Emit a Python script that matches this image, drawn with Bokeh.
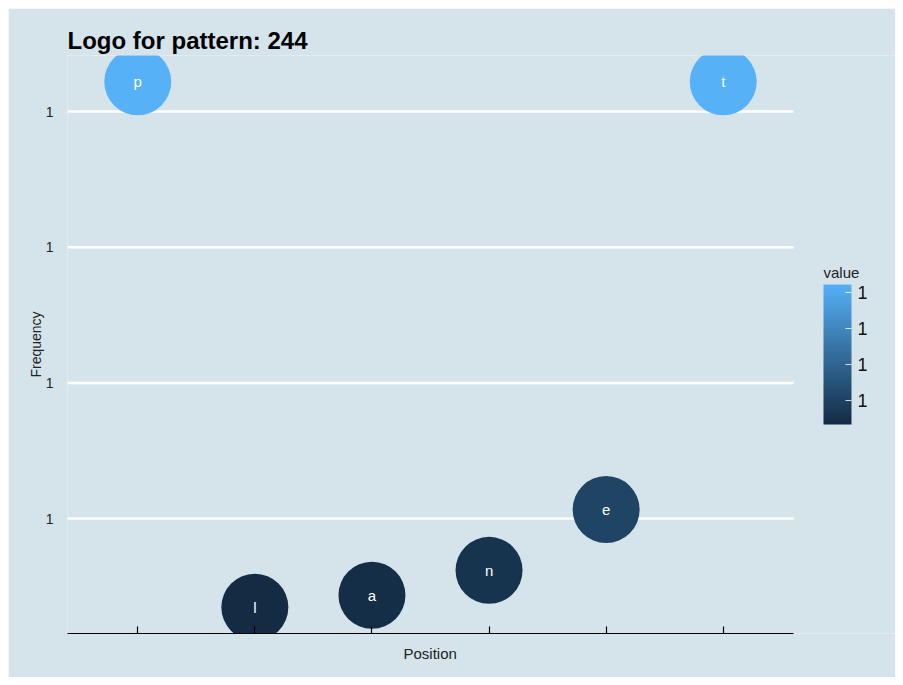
import numpy as np
from bokeh.plotting import figure
from bokeh.models import (ColumnDataSource, LinearColorMapper, ColorBar, FixedTicker,
                          PrintfTickFormatter, Range1d, CustomJSTickFormatter, Label, Title)
from bokeh.transform import transform
from bokeh.core.properties import value
from bokeh.embed import file_html
from bokeh.resources import INLINE

# ---- data ----
positions = [1, 2, 3, 4, 5, 6]
letters = ["p", "l", "a", "n", "e", "t"]
frequency = [1.000022, 0.9996346, 0.9996434, 0.9996618, 0.9997066, 1.000022]
y_ticks = [0.9997, 0.9998, 0.9999, 1.0]
x_ticks = [1, 2, 3, 4, 5, 6]
title_text = "Logo for pattern:  244"
x_title = "Position"
y_title = "Frequency"
legend_title = "value"

# ---- colour scale (ggplot default gradient) ----
lo_col, hi_col = (19, 43, 67), (86, 177, 247)
palette = ['#%02x%02x%02x' % tuple(int(round(a + (b - a) * t)) for a, b in zip(lo_col, hi_col))
           for t in np.linspace(0, 1, 256)]

fmin, fmax = min(frequency), max(frequency)
pad = 0.05 * (fmax - fmin)
mapper = LinearColorMapper(palette=palette, low=fmin, high=fmax)

src = ColumnDataSource(dict(x=positions, y=frequency, letter=letters))

BG = "#d5e4eb"
FONT = "Liberation Sans"

# panel spans x 0.4..6.6 over 726 px; the frame is widened to also hold the legend
X0, X1 = 0.4, 6.6
PANEL_W, FRAME_W = 726, 828
x_end = X0 + (X1 - X0) * FRAME_W / PANEL_W

p = figure(width=887, height=669, output_backend="svg", toolbar_location=None,
           x_range=Range1d(X0, x_end), y_range=Range1d(fmin - pad, fmax + pad),
           min_border_left=59, min_border_right=0, min_border_top=47, min_border_bottom=44)
p.margin = (8, 0, 0, 8)

p.background_fill_color = BG
p.border_fill_color = BG
p.outline_line_color = None

# grid lines (limited to the panel)
p.xgrid.grid_line_color = None
p.ygrid.grid_line_color = None
p.segment(x0=X0, x1=X1, y0=y_ticks, y1=y_ticks, line_color="white", line_width=2.5)

# y axis
p.yaxis.ticker = FixedTicker(ticks=y_ticks)
p.yaxis.formatter = PrintfTickFormatter(format="%.0f")
p.yaxis.axis_line_color = None
p.yaxis.major_tick_line_color = None
p.yaxis.minor_tick_line_color = None
p.yaxis.major_label_standoff = 8
p.yaxis.axis_label = y_title
p.yaxis.axis_label_text_font = FONT
p.yaxis.axis_label_text_font_style = "normal"
p.yaxis.axis_label_text_font_size = "14px"
p.yaxis.axis_label_text_color = "#222222"
p.yaxis.axis_label_standoff = -1
p.yaxis.major_label_text_font = FONT
p.yaxis.major_label_text_font_size = "14px"
p.yaxis.major_label_text_color = "#222222"

# x axis
p.xaxis.ticker = FixedTicker(ticks=x_ticks)
p.xaxis.bounds = (X0, X1)
p.xaxis.formatter = CustomJSTickFormatter(code="return ''")
p.xaxis.axis_line_color = "black"
p.xaxis.axis_line_width = 1.2
p.xaxis.major_tick_line_color = "black"
p.xaxis.major_tick_line_width = 1.2
p.xaxis.major_tick_in = 7
p.xaxis.major_tick_out = 0
p.xaxis.minor_tick_line_color = None

# x axis title, centred under the panel (not the widened frame)
xt = Title(text=x_title, align="left", offset=336, text_font=FONT, text_font_size="15px",
           text_font_style="normal", text_color="#222222", standoff=18)
p.add_layout(xt, "below")

# title
p.title.text = title_text
p.title.text_font = FONT
p.title.text_font_size = "24px"
p.title.text_font_style = "bold"
p.title.align = "left"
p.title.text_color = "black"
p.title.standoff = 4

# points and letters
p.scatter("x", "y", source=src, size=67, fill_color=transform("y", mapper), line_color=None)
p.text("x", "y", text="letter", source=src, text_color="white", text_align="center",
       text_baseline="middle", text_font=value(FONT), text_font_size="15px")

# colour bar (placed beside the panel)
cb = ColorBar(color_mapper=mapper, ticker=FixedTicker(ticks=y_ticks),
              formatter=PrintfTickFormatter(format="%.0f"),
              width=28, height=140,
              major_label_text_font=FONT, major_label_text_font_size="18px",
              major_label_text_color="#111111",
              major_tick_line_color="white", major_tick_line_alpha=0.8,
              major_tick_in=6, major_tick_out=0, minor_tick_line_color=None,
              bar_line_color=None, background_fill_color=None, border_line_color=None,
              location=(756, 209), margin=0, padding=0, label_standoff=6)
p.add_layout(cb, "center")

lbl = Label(x=756, y=361, x_units="screen", y_units="screen", text=legend_title,
            text_font=FONT, text_font_size="15px", text_color="#222222",
            text_align="left", text_baseline="alphabetic")
p.add_layout(lbl)

open("out.html", "w").write(file_html(p, INLINE))
